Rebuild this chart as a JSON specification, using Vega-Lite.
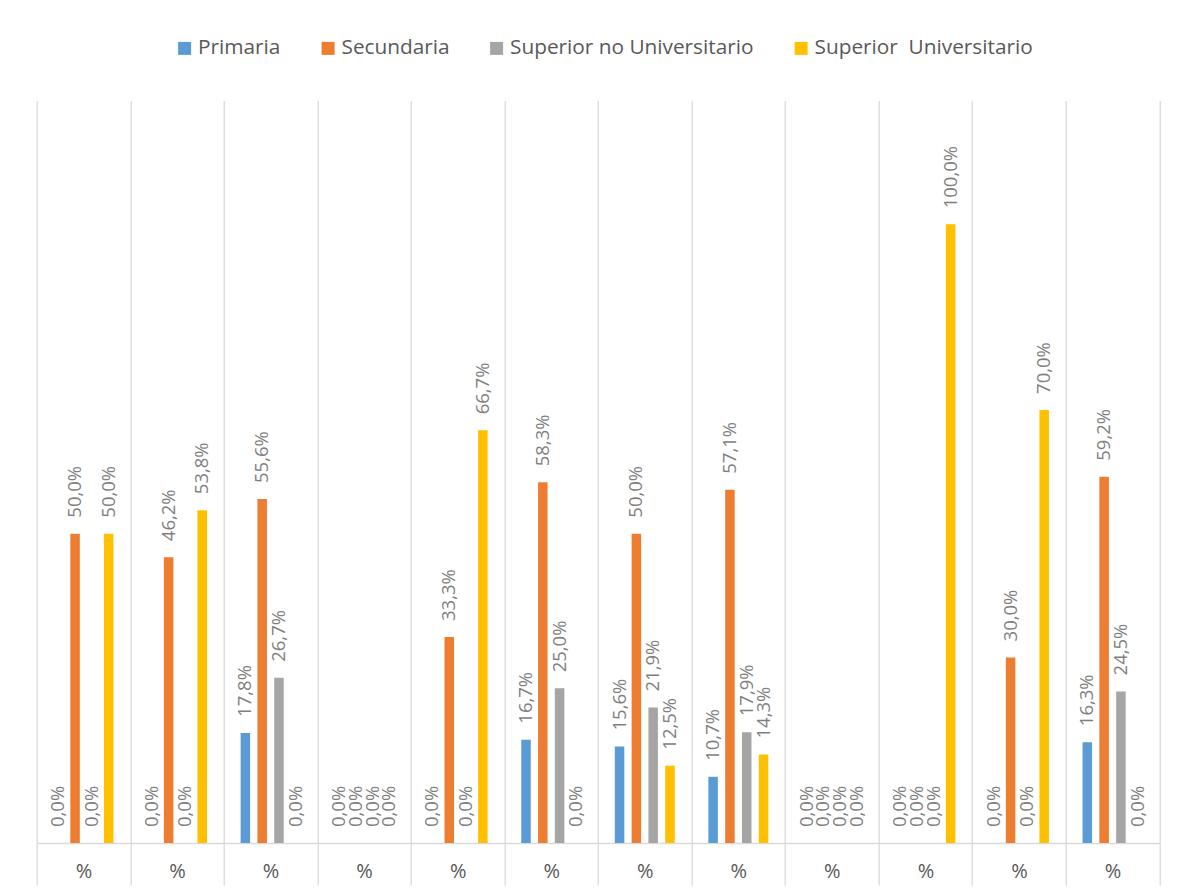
{
  "$schema": "https://vega.github.io/schema/vega-lite/v6.json",
  "width": 1122.6,
  "height": 742.4,
  "autosize": "none",
  "padding": {"left": 36.7, "top": 100.6, "right": 18.7, "bottom": 49},
  "background": "#FFFFFF",
  "data": {
    "values": [
      {"grupo": 1, "nivel": "Primaria", "valor": 0.0},
      {"grupo": 1, "nivel": "Secundaria", "valor": 0.5},
      {"grupo": 1, "nivel": "Superior no Universitario", "valor": 0.0},
      {"grupo": 1, "nivel": "Superior  Universitario", "valor": 0.5},
      {"grupo": 2, "nivel": "Primaria", "valor": 0.0},
      {"grupo": 2, "nivel": "Secundaria", "valor": 0.462},
      {"grupo": 2, "nivel": "Superior no Universitario", "valor": 0.0},
      {"grupo": 2, "nivel": "Superior  Universitario", "valor": 0.538},
      {"grupo": 3, "nivel": "Primaria", "valor": 0.178},
      {"grupo": 3, "nivel": "Secundaria", "valor": 0.556},
      {"grupo": 3, "nivel": "Superior no Universitario", "valor": 0.267},
      {"grupo": 3, "nivel": "Superior  Universitario", "valor": 0.0},
      {"grupo": 4, "nivel": "Primaria", "valor": 0.0},
      {"grupo": 4, "nivel": "Secundaria", "valor": 0.0},
      {"grupo": 4, "nivel": "Superior no Universitario", "valor": 0.0},
      {"grupo": 4, "nivel": "Superior  Universitario", "valor": 0.0},
      {"grupo": 5, "nivel": "Primaria", "valor": 0.0},
      {"grupo": 5, "nivel": "Secundaria", "valor": 0.333},
      {"grupo": 5, "nivel": "Superior no Universitario", "valor": 0.0},
      {"grupo": 5, "nivel": "Superior  Universitario", "valor": 0.667},
      {"grupo": 6, "nivel": "Primaria", "valor": 0.167},
      {"grupo": 6, "nivel": "Secundaria", "valor": 0.583},
      {"grupo": 6, "nivel": "Superior no Universitario", "valor": 0.25},
      {"grupo": 6, "nivel": "Superior  Universitario", "valor": 0.0},
      {"grupo": 7, "nivel": "Primaria", "valor": 0.156},
      {"grupo": 7, "nivel": "Secundaria", "valor": 0.5},
      {"grupo": 7, "nivel": "Superior no Universitario", "valor": 0.219},
      {"grupo": 7, "nivel": "Superior  Universitario", "valor": 0.125},
      {"grupo": 8, "nivel": "Primaria", "valor": 0.107},
      {"grupo": 8, "nivel": "Secundaria", "valor": 0.571},
      {"grupo": 8, "nivel": "Superior no Universitario", "valor": 0.179},
      {"grupo": 8, "nivel": "Superior  Universitario", "valor": 0.143},
      {"grupo": 9, "nivel": "Primaria", "valor": 0.0},
      {"grupo": 9, "nivel": "Secundaria", "valor": 0.0},
      {"grupo": 9, "nivel": "Superior no Universitario", "valor": 0.0},
      {"grupo": 9, "nivel": "Superior  Universitario", "valor": 0.0},
      {"grupo": 10, "nivel": "Primaria", "valor": 0.0},
      {"grupo": 10, "nivel": "Secundaria", "valor": 0.0},
      {"grupo": 10, "nivel": "Superior no Universitario", "valor": 0.0},
      {"grupo": 10, "nivel": "Superior  Universitario", "valor": 1.0},
      {"grupo": 11, "nivel": "Primaria", "valor": 0.0},
      {"grupo": 11, "nivel": "Secundaria", "valor": 0.3},
      {"grupo": 11, "nivel": "Superior no Universitario", "valor": 0.0},
      {"grupo": 11, "nivel": "Superior  Universitario", "valor": 0.7},
      {"grupo": 12, "nivel": "Primaria", "valor": 0.163},
      {"grupo": 12, "nivel": "Secundaria", "valor": 0.592},
      {"grupo": 12, "nivel": "Superior no Universitario", "valor": 0.245},
      {"grupo": 12, "nivel": "Superior  Universitario", "valor": 0.0}
    ]
  },
  "encoding": {
    "x": {
      "field": "grupo",
      "type": "ordinal",
      "scale": {"paddingInner": 0, "paddingOuter": 0},
      "axis": {
        "title": null,
        "labelExpr": "datum.label == '' ? '' : '%'",
        "labelAngle": 0,
        "tickBand": "extent",
        "grid": true,
        "gridColor": "#D9D9D9",
        "gridWidth": 1.3,
        "ticks": true,
        "tickColor": "#D9D9D9",
        "tickWidth": 1.3,
        "tickSize": 42,
        "domainColor": "#D9D9D9",
        "domainWidth": 1.5,
        "labelPadding": -24,
        "labelFont": "Open Sans",
        "labelFontSize": 20,
        "labelColor": "#595959"
      }
    },
    "xOffset": {
      "field": "nivel",
      "type": "nominal",
      "sort": ["Primaria", "Secundaria", "Superior no Universitario", "Superior  Universitario"],
      "scale": {"paddingInner": 0.434, "paddingOuter": 1.159}
    },
    "y": {
      "field": "valor",
      "type": "quantitative",
      "scale": {"domain": [0, 1.2], "nice": false, "zero": true},
      "axis": null
    }
  },
  "layer": [
    {
      "mark": {"type": "bar"},
      "encoding": {
        "color": {
          "field": "nivel",
          "type": "nominal",
          "sort": ["Primaria", "Secundaria", "Superior no Universitario", "Superior  Universitario"],
          "scale": {
            "domain": ["Primaria", "Secundaria", "Superior no Universitario", "Superior  Universitario"],
            "range": ["#5B9BD5", "#ED7D31", "#A5A5A5", "#FFC000"]
          },
          "legend": {
            "title": null,
            "orient": "none",
            "direction": "horizontal",
            "columns": 4,
            "legendX": 137.5,
            "legendY": -63,
            "padding": 0,
            "symbolType": "square",
            "symbolSize": 169,
            "symbolStrokeWidth": 0,
            "labelOffset": 3,
            "columnPadding": 36.5,
            "labelFont": "Open Sans",
            "labelFontSize": 20.8,
            "labelColor": "#595959",
            "labelLimit": 0,
            "labelExpr": "replace(datum.label, '  ', '\u00a0 ')"
          }
        }
      }
    },
    {
      "mark": {
        "type": "text",
        "angle": -90,
        "align": "left",
        "baseline": "middle",
        "dx": 16,
        "font": "Open Sans",
        "fontSize": 18.5,
        "color": "#7F7F7F"
      },
      "encoding": {
        "text": {"field": "valor", "type": "quantitative", "format": ".1%"}
      }
    }
  ],
  "config": {
    "view": {"stroke": null},
    "locale": {
      "number": {
        "decimal": ",",
        "thousands": ".",
        "grouping": [3],
        "currency": ["", " €"]
      }
    }
  }
}
